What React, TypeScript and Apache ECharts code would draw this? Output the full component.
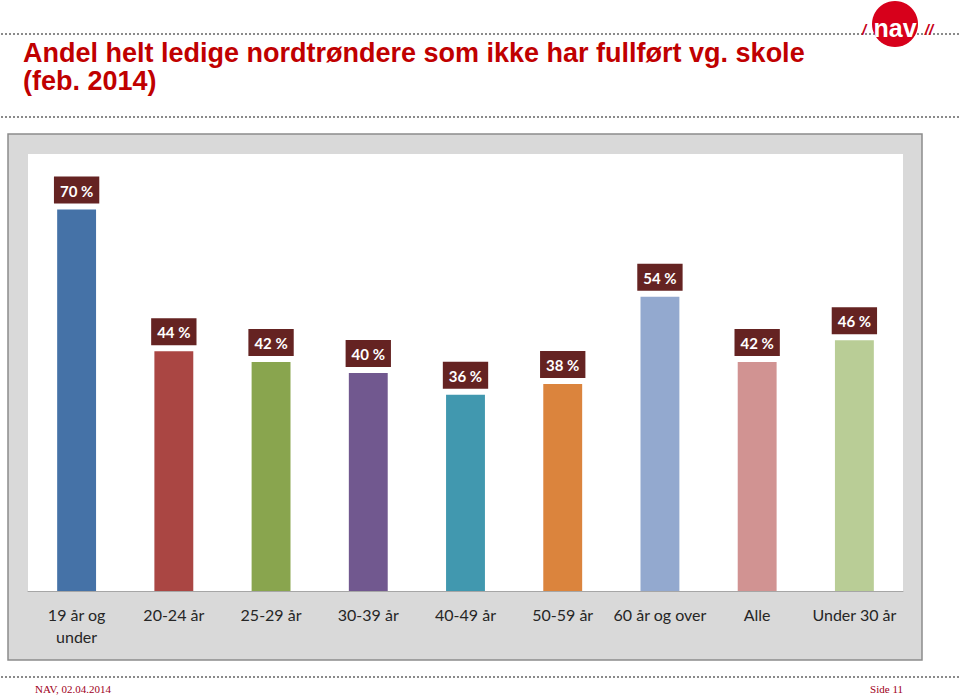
import React, { useEffect, useRef } from "react";
import * as echarts from "echarts";

const categories = ["19 år og\nunder", "20-24 år", "25-29 år", "30-39 år", "40-49 år", "50-59 år", "60 år og over", "Alle", "Under 30 år"];
const values = [70, 44, 42, 40, 36, 38, 54, 42, 46];
const barColors = ["#4572A7", "#AA4643", "#89A54E", "#71588F", "#4198AF", "#DB843D", "#93A9CF", "#D19392", "#B9CD96"];
const titleText = "Andel helt ledige nordtrøndere som ikke har fullført vg. skole\n(feb. 2014)";
const footerLeft = "NAV, 02.04.2014";
const footerRight = "Side 11";

function dotRow(prefix: string, y: number) {
  const els: any[] = [];
  for (let x = 1; x < 960; x += 4) {
    els.push({
      type: "rect",
      id: prefix + "_" + x,
      z: 1,
      silent: true,
      shape: { x, y: y - 1, width: 2, height: 2 },
      style: { fill: "#8a8a8a" },
    });
  }
  return els;
}

export default function App() {
  const ref = useRef<HTMLDivElement>(null);
  useEffect(() => {
    if (!ref.current) return;
    const chart = echarts.init(ref.current, undefined, { renderer: "svg" });
    chart.setOption({
      animation: false,
      backgroundColor: "#ffffff",
      title: {
        text: titleText,
        left: 18,
        top: 34,
        textStyle: {
          fontFamily: "Liberation Sans, Arial, sans-serif",
          fontSize: 27,
          lineHeight: 28,
          fontWeight: "bold",
          color: "#C00000",
        },
      },
      graphic: [
        {
          type: "rect",
          id: "frame",
          z: -10,
          shape: { x: 8, y: 134, width: 914, height: 526 },
          style: { fill: "#D9D9D9", stroke: "#8C8C8C", lineWidth: 1.5 },
        },
        {
          type: "rect",
          id: "plotbg",
          z: -9,
          shape: { x: 28, y: 154, width: 875, height: 437 },
          style: { fill: "#FFFFFF" },
        },
        ...dotRow("top", 34),
        ...dotRow("mid", 117),
        ...dotRow("bot", 677),
        {
          type: "circle",
          id: "logoCircle",
          z: 10,
          shape: { cx: 895, cy: 24, r: 23 },
          style: { fill: "#D7001B" },
        },
        {
          type: "text",
          id: "logoText",
          z: 11,
          x: 895,
          y: 28,
          style: {
            text: "nav",
            fill: "#FFFFFF",
            font: "bold 25px 'Liberation Sans', Arial, sans-serif",
            align: "center",
            verticalAlign: "middle",
          },
        },
        {
          type: "text",
          id: "slashL",
          z: 11,
          x: 864,
          y: 29,
          style: {
            text: "/",
            fill: "#C8001A",
            font: "italic bold 15px 'Liberation Sans', Arial, sans-serif",
            align: "center",
            verticalAlign: "middle",
          },
        },
        {
          type: "text",
          id: "slashR",
          z: 11,
          x: 929,
          y: 29,
          style: {
            text: "//",
            fill: "#C8001A",
            font: "italic bold 15px 'Liberation Sans', Arial, sans-serif",
            align: "center",
            verticalAlign: "middle",
          },
        },
        {
          type: "text",
          id: "footL",
          x: 35,
          y: 689,
          style: {
            text: footerLeft,
            fill: "#A0001A",
            font: "11px 'Liberation Serif', 'Times New Roman', serif",
            align: "left",
            verticalAlign: "middle",
          },
        },
        {
          type: "text",
          id: "footR",
          x: 903,
          y: 689,
          style: {
            text: footerRight,
            fill: "#A0001A",
            font: "11px 'Liberation Serif', 'Times New Roman', serif",
            align: "right",
            verticalAlign: "middle",
          },
        },
      ],
      grid: { left: 28, right: 57, top: 155, bottom: 107, containLabel: false },
      xAxis: {
        type: "category",
        data: categories,
        z: 5,
        axisLine: { show: true, lineStyle: { color: "#A6A6A6", width: 1 } },
        axisTick: { show: false },
        axisLabel: {
          interval: 0,
          margin: 12,
          fontFamily: "Lato, sans-serif",
          fontSize: 16,
          lineHeight: 22,
          color: "#262626",
        },
      },
      yAxis: {
        type: "value",
        min: 0,
        max: 80,
        show: false,
        splitLine: { show: false },
      },
      series: [
        {
          type: "bar",
          data: values.map((v, i) => ({ value: v, itemStyle: { color: barColors[i] } })),
          barWidth: "40%",
          label: {
            show: true,
            position: "top",
            distance: 6,
            formatter: "{c} %",
            fontFamily: "Lato, sans-serif",
            fontSize: 15,
            fontWeight: "bold",
            color: "#FFFFFF",
            backgroundColor: "#652322",
            padding: [5, 6, 4, 6],
            lineHeight: 18,
          },
        },
      ],
    });
    return () => chart.dispose();
  }, []);
  return <div ref={ref} style={{ position: "fixed", left: 0, top: 0, width: 960, height: 698 }} />;
}
